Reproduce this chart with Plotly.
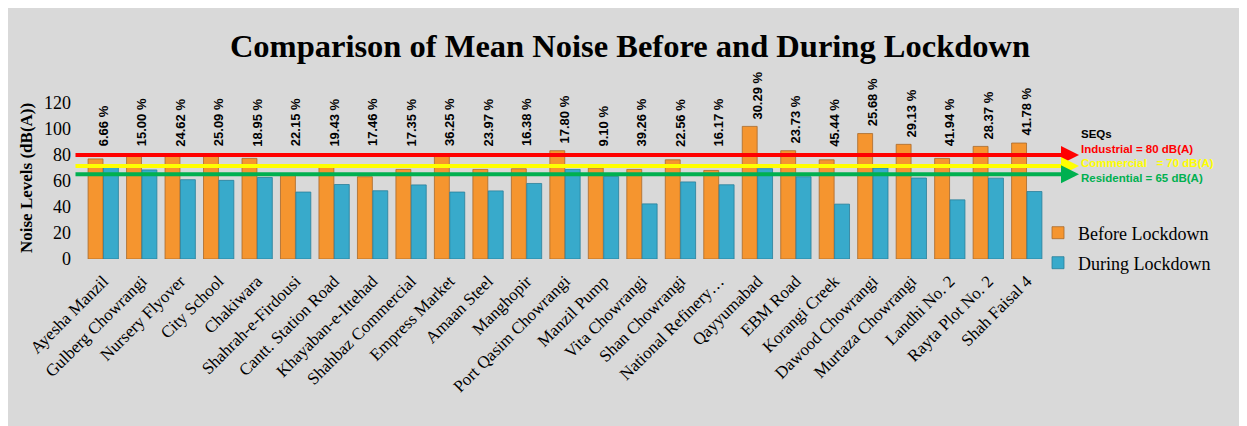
import plotly.graph_objects as go

# ---------------- data ----------------
sites = ["Ayesha Manzil", "Gulberg Chowrangi", "Nursery Flyover", "City School", "Chakiwara",
         "Shahrah-e-Firdousi", "Cantt. Station Road", "Khayaban-e-Ittehad", "Shahbaz Commercial",
         "Empress Market", "Amaan Steel", "Manghopir", "Port Qasim Chowrangi", "Manzil Pump",
         "Vita Chowrangi", "Shan Chowrangi", "National Refinery…", "Qayyumabad", "EBM Road",
         "Korangi Creek", "Dawood Chowrangi", "Murtaza Chowrangi", "Landhi No. 2",
         "Rayta Plot No. 2", "Shah Faisal 4"]
before = [77, 79.5, 79.5, 79.5, 77.4, 65, 70.4, 63.3, 68.9, 79.4, 68.9, 69.4, 83.3, 69.9,
          68.9, 76.3, 68.1, 102, 83.3, 76.3, 96.5, 88.2, 77.4, 86.6, 89.2]
during = [71, 68.5, 61, 60.5, 62.7, 51.5, 57.3, 52.5, 57, 51.5, 52.4, 58.1, 68.9, 63.5,
          42.4, 59.3, 57.1, 69.5, 63.3, 42.2, 70, 62.3, 45.5, 62.2, 51.9]
reduction = ["6.66 %", "15.00 %", "24.62 %", "25.09 %", "18.95 %", "22.15 %", "19.43 %",
             "17.46 %", "17.35 %", "36.25 %", "23.97 %", "16.38 %", "17.80 %", "9.10 %",
             "39.26 %", "22.56 %", "16.17 %", "30.29 %", "23.73 %", "45.44 %", "25.68 %",
             "29.13 %", "41.94 %", "28.37 %", "41.78 %"]
seq_names = ["Industrial = 80 dB(A)", "Commercial   = 70 dB(A)", "Residential = 65 dB(A)"]
seq_line_y = [80, 71.5, 65.2]
seq_colors = ["#ff0000", "#ffff00", "#00b050"]
yticks = [0, 20, 40, 60, 80, 100, 120]

# ---------------- layout geometry (reference pixel coords) ----------------
OFF = 8                      # page body margin
SW, SH = 1247, 426           # screenshot size
W, H = SW - OFF, SH - OFF    # figure size
PX0, PX1 = 84, 1046          # plot area left/right in screenshot px
PY0, PY1 = 103, 259          # plot area top/bottom in screenshot px
L, R, T, B = PX0 - OFF, SW - PX1, PY0 - OFF, SH - PY1
PW = PX1 - PX0
PH = PY1 - PY0


def px_x(px):
    return (px - PX0) / PW


def px_y(py):
    return (PY1 - py) / PH


SERIF = "Liberation Serif, Times New Roman, serif"
SANS = "Liberation Sans, Arial, sans-serif"

fig = go.Figure()
fig.add_trace(go.Bar(x=sites, y=before, name="Before Lockdown",
                     marker=dict(color="#F5952F", line=dict(color="#A86A2C", width=0.8)),
                     legend="legend"))
fig.add_trace(go.Bar(x=sites, y=during, name="During Lockdown",
                     marker=dict(color="#38AACB", line=dict(color="#2A7F99", width=0.8)),
                     legend="legend2"))

annotations = []
# percent labels
for s, b, t in zip(sites, before, reduction):
    annotations.append(dict(x=s, y=max(b + 4, 85), xref="x", yref="y", text="<b>%s</b>" % t,
                            textangle=-90, showarrow=False, xanchor="center", yanchor="bottom",
                            font=dict(family=SANS, size=13, color="#000000")))

# SEQ arrows
for yv, c in zip(seq_line_y, seq_colors):
    annotations.append(dict(x=px_x(1079), y=yv, xref="paper", yref="y", text="",
                            showarrow=True, ax=-(1079 - 74), ay=0, axref="pixel", ayref="pixel",
                            arrowhead=2, arrowsize=0.9, arrowwidth=4, arrowcolor=c))

# SEQ texts
annotations.append(dict(x=px_x(1079), y=px_y(134), xref="paper", yref="paper", text="<b>SEQs</b>",
                        showarrow=False, xanchor="left", yanchor="middle",
                        font=dict(family=SANS, size=11.5, color="#000000")))
for nm, c, py in zip(seq_names, seq_colors, [149, 163, 178]):
    annotations.append(dict(x=px_x(1079), y=px_y(py), xref="paper", yref="paper",
                            text="<b>%s</b>" % nm.replace("   ", "&nbsp;&nbsp;&nbsp;"),
                            showarrow=False, xanchor="left", yanchor="middle",
                            font=dict(family=SANS, size=11.5, color=c)))

# y-axis title
annotations.append(dict(x=px_x(26), y=px_y(178), xref="paper", yref="paper",
                        text="<b>Noise Levels (dB(A))</b>", textangle=-90, showarrow=False,
                        xanchor="center", yanchor="middle",
                        font=dict(family=SERIF, size=17, color="#000000")))

fig.update_layout(
    width=W, height=H,
    margin=dict(l=L, r=R, t=T, b=B, autoexpand=False),
    paper_bgcolor="#d9d9d9",
    plot_bgcolor="rgba(0,0,0,0)",
    barmode="group", bargap=0.2, bargroupgap=0.03,
    title=dict(text="<b>Comparison of Mean Noise Before and During Lockdown</b>",
               x=(630 - OFF) / W, xref="container", xanchor="center",
               y=1 - (46 - OFF) / H, yref="container", yanchor="middle",
               font=dict(family=SERIF, size=32.5, color="#000000")),
    xaxis=dict(tickangle=-45, showgrid=False, showline=False, zeroline=False,
               ticklabelstandoff=8,
               tickfont=dict(family=SERIF, size=17, color="#000000")),
    yaxis=dict(range=[0, 120], tickvals=yticks, showgrid=False, showline=False, zeroline=False,
               ticklabelstandoff=12,
               tickfont=dict(family=SERIF, size=18, color="#000000")),
    legend=dict(x=px_x(1038), y=px_y(233), xanchor="left", yanchor="middle",
                bgcolor="rgba(0,0,0,0)", font=dict(family=SERIF, size=18, color="#000000"),
                itemwidth=30),
    legend2=dict(x=px_x(1038), y=px_y(263), xanchor="left", yanchor="middle",
                 bgcolor="rgba(0,0,0,0)", font=dict(family=SERIF, size=18, color="#000000"),
                 itemwidth=30),
    annotations=annotations,
    showlegend=True,
)

fig.write_html("out.html")
